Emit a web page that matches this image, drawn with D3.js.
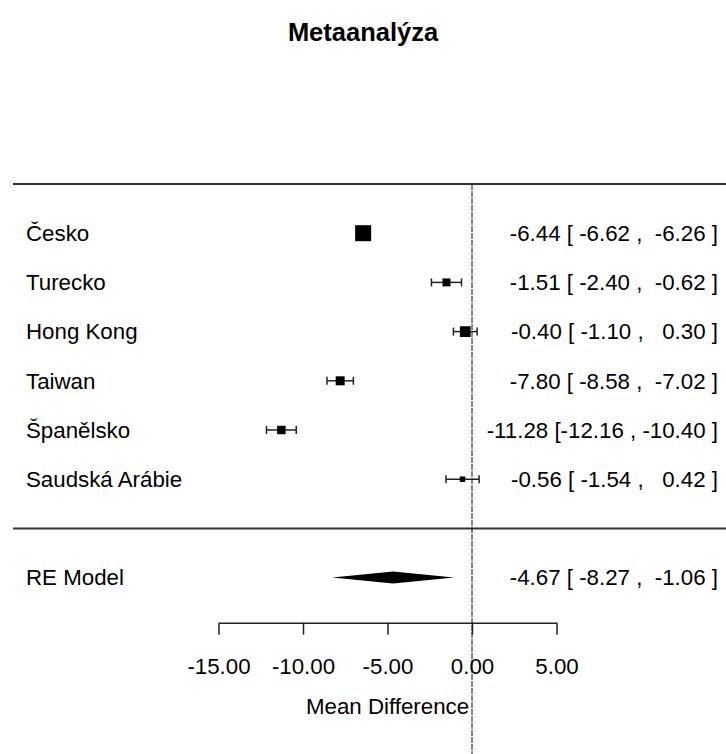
<!DOCTYPE html>
<html>
<head>
<meta charset="utf-8">
<script src="https://cdn.jsdelivr.net/npm/d3@7"></script>
<style>
  body { margin: 0; background: #fff; }
  text { font-family: "Liberation Sans", Arial, sans-serif; fill: #000; white-space: pre; }
</style>
</head>
<body>
<svg id="chart" width="726" height="754"></svg>
<script>
// studies (top to bottom)
var studies = ['Česko', 'Turecko', 'Hong Kong', 'Taiwan', 'Španělsko', 'Saudská Arábie'];
var estimates = [-6.44, -1.51, -0.40, -7.80, -11.28, -0.56];
var ciLower = [-6.62, -2.40, -1.10, -8.58, -12.16, -1.54];
var ciUpper = [-6.26, -0.62, 0.30, -7.02, -10.40, 0.42];
// relative weight of each study (drives square size)
var weights = [32, 16, 21.5, 18, 17, 11];

// random effects summary
var modelLabel = 'RE Model';
var modelEst = -4.67, modelLower = -8.27, modelUpper = -1.06;

var xTicks = [-15, -10, -5, 0, 5];
var title = 'Metaanalýza';
var xLabel = 'Mean Difference';

var W = 726, H = 754;
var svg = d3.select('#chart');

var x = d3.scaleLinear().domain([-15, 5]).range([218.5, 556.5]);
// rows: k+1 (top line) .. -1 (model row)
var k = studies.length;
var y = d3.scaleLinear().domain([k + 1, -1]).range([184, 577.6]);
var size = d3.scaleLinear().domain([0, d3.max(weights)]).range([0, 16]);

var fmt = function(v) { return v.toFixed(2); };
var pad = function(s) { return s.length < 6 ? ' '.repeat(6 - s.length) + s : s; };
var annot = function(e, lo, hi) {
  return fmt(e) + ' [' + pad(fmt(lo)) + ' , ' + pad(fmt(hi)) + ' ]';
};

var fs = 22.3;

// title
svg.append('text')
  .attr('x', W / 2).attr('y', 41)
  .attr('text-anchor', 'middle')
  .style('font-weight', 'bold').style('font-size', '25.5px')
  .text(title);

// horizontal rules
[k + 1, 0].forEach(function(r) {
  svg.append('line')
    .attr('x1', 13).attr('x2', W)
    .attr('y1', y(r)).attr('y2', y(r))
    .attr('stroke', '#333').attr('stroke-width', 2);
});

// reference line at 0
svg.append('line')
  .attr('x1', x(0)).attr('x2', x(0))
  .attr('y1', y(k + 1)).attr('y2', H)
  .attr('stroke', '#111').attr('stroke-width', 1)
  .attr('stroke-dasharray', '6,1');

var rows = studies.map(function(s, i) {
  return { name: s, est: estimates[i], lo: ciLower[i], hi: ciUpper[i], w: weights[i], row: k - i };
});

var g = svg.append('g');

// CI lines
g.selectAll('line.ci').data(rows).enter().append('line')
  .attr('class', 'ci')
  .attr('x1', function(d) { return x(d.lo); })
  .attr('x2', function(d) { return x(d.hi); })
  .attr('y1', function(d) { return y(d.row); })
  .attr('y2', function(d) { return y(d.row); })
  .attr('stroke', '#222').attr('stroke-width', 1.5);

// end caps
['lo', 'hi'].forEach(function(key) {
  g.selectAll('line.cap-' + key).data(rows).enter().append('line')
    .attr('class', 'cap-' + key)
    .attr('x1', function(d) { return x(d[key]); })
    .attr('x2', function(d) { return x(d[key]); })
    .attr('y1', function(d) { return y(d.row) - 4; })
    .attr('y2', function(d) { return y(d.row) + 4; })
    .attr('stroke', '#222').attr('stroke-width', 1.5);
});

// squares
g.selectAll('rect').data(rows).enter().append('rect')
  .attr('x', function(d) { return x(d.est) - size(d.w) / 2; })
  .attr('y', function(d) { return y(d.row) - size(d.w) / 2; })
  .attr('width', function(d) { return size(d.w); })
  .attr('height', function(d) { return size(d.w); })
  .attr('fill', '#000');

// study labels
g.selectAll('text.lab').data(rows).enter().append('text')
  .attr('class', 'lab')
  .attr('x', 26).attr('y', function(d) { return y(d.row); })
  .attr('dy', '0.35em')
  .style('font-size', fs + 'px')
  .text(function(d) { return d.name; });

// annotations
g.selectAll('text.ann').data(rows).enter().append('text')
  .attr('class', 'ann')
  .attr('x', 718).attr('y', function(d) { return y(d.row); })
  .attr('dy', '0.35em')
  .attr('text-anchor', 'end')
  .style('font-size', fs + 'px')
  .text(function(d) { return annot(d.est, d.lo, d.hi); });

// model row
var ym = y(-1);
svg.append('path')
  .attr('d', d3.line()([[x(modelLower), ym], [x(modelEst), ym - 6], [x(modelUpper), ym], [x(modelEst), ym + 6]]) + 'Z')
  .attr('fill', '#000');
svg.append('text')
  .attr('x', 26).attr('y', ym).attr('dy', '0.35em')
  .style('font-size', fs + 'px')
  .text(modelLabel);
svg.append('text')
  .attr('x', 718).attr('y', ym).attr('dy', '0.35em')
  .attr('text-anchor', 'end')
  .style('font-size', fs + 'px')
  .text(annot(modelEst, modelLower, modelUpper));

// x axis
var axis = d3.axisBottom(x)
  .tickValues(xTicks)
  .tickFormat(fmt)
  .tickSize(12)
  .tickSizeOuter(0)
  .tickPadding(23);

var ax = svg.append('g')
  .attr('transform', 'translate(0,622.7)')
  .call(axis);
ax.select('.domain').attr('stroke', '#222').attr('stroke-width', 1.5);
ax.selectAll('.tick line').attr('stroke', '#222').attr('stroke-width', 1.5);
ax.selectAll('.tick text')
  .style('font-size', fs + 'px')
  .style('font-family', '"Liberation Sans", Arial, sans-serif')
  .attr('fill', '#000');

svg.append('text')
  .attr('x', x(-5)).attr('y', 714)
  .attr('text-anchor', 'middle')
  .style('font-size', fs + 'px')
  .text(xLabel);
</script>
</body>
</html>
